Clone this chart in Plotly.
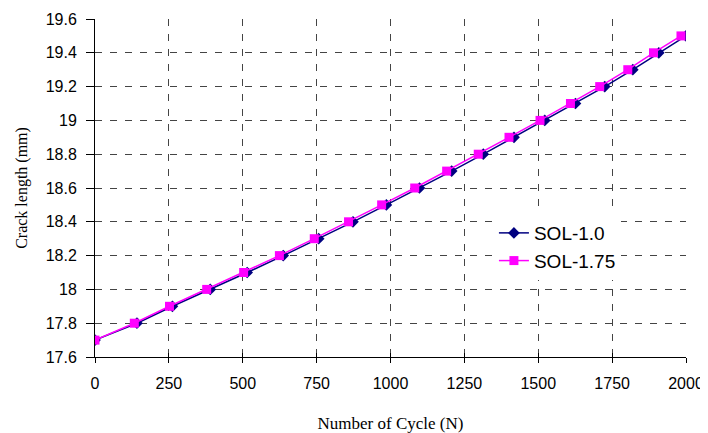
import plotly.graph_objects as go

# Data
crack_length = [17.7, 17.8, 17.9, 18.0, 18.1, 18.2, 18.3, 18.4, 18.5, 18.6,
                18.7, 18.8, 18.9, 19.0, 19.1, 19.2, 19.3, 19.4, 19.5]
cycles_sol_1_0 = [0, 142, 262, 390, 515, 637, 757, 873, 986, 1098,
                  1207, 1314, 1418, 1522, 1626, 1725, 1820, 1908, 2000]
cycles_sol_1_75 = [0, 133, 252, 378, 503, 624, 742, 858, 970, 1082,
                   1190, 1297, 1401, 1506, 1609, 1708, 1803, 1890, 1983]

x_tick_vals = [0, 250, 500, 750, 1000, 1250, 1500, 1750, 2000]
x_tick_text = ["0", "250", "500", "750", "1000", "1250", "1500", "1750", "2000"]
y_tick_vals = [17.6, 17.8, 18.0, 18.2, 18.4, 18.6, 18.8, 19.0, 19.2, 19.4, 19.6]
y_tick_text = ["17.6", "17.8", "18", "18.2", "18.4", "18.6", "18.8", "19", "19.2", "19.4", "19.6"]

fig = go.Figure()
fig.add_trace(go.Scatter(
    x=cycles_sol_1_0, y=crack_length, name="SOL-1.0", mode="lines+markers",
    line=dict(color="#000080", width=1.5),
    marker=dict(symbol="diamond", size=9, color="#000080"),
))
fig.add_trace(go.Scatter(
    x=cycles_sol_1_75, y=crack_length, name="SOL-1.75", mode="lines+markers",
    line=dict(color="#FF00FF", width=1.5),
    marker=dict(symbol="square", size=9, color="#FF00FF"),
))

grid_color = "#444444"
fig.update_layout(
    width=700, height=425,
    margin=dict(l=87, r=22, t=11, b=76, autoexpand=False),
    paper_bgcolor="white", plot_bgcolor="white",
    showlegend=True,
    legend=dict(x=0.675, y=0.423, xanchor="left", yanchor="top",
                bgcolor="white", borderwidth=0,
                font=dict(family="Liberation Sans, Arial", size=19, color="black")),
    xaxis=dict(range=[0, 2000], tickvals=x_tick_vals, ticktext=x_tick_text,
               automargin=False,
               showline=True, linecolor="black", linewidth=1,
               ticks="outside", ticklen=5, tickcolor="black",
               ticklabelstandoff=7,
               showgrid=True, gridcolor=grid_color, griddash="7px,8px", gridwidth=1,
               zeroline=False,
               tickfont=dict(family="Liberation Sans, Arial", size=16, color="black"),
               title=dict(text="Number of Cycle (N)", standoff=25,
                          font=dict(family="Liberation Serif, Times New Roman", size=17, color="black"))),
    xaxis2=dict(range=[0, 2000], overlaying="x", anchor="y", side="bottom",
                automargin=False,
                tickvals=x_tick_vals, ticks="inside", ticklen=4, tickcolor="black",
                showticklabels=False, showgrid=False, showline=False, zeroline=False),
    yaxis=dict(range=[17.6, 19.6], tickvals=y_tick_vals, ticktext=y_tick_text,
               automargin=False,
               showline=True, linecolor="black", linewidth=1,
               ticks="outside", ticklen=8, tickcolor="black",
               ticklabelstandoff=6,
               showgrid=True, gridcolor=grid_color, griddash="7px,8px", gridwidth=1,
               zeroline=False,
               tickfont=dict(family="Liberation Sans, Arial", size=16, color="black"),
               title=dict(text="Crack length (mm)", standoff=14,
                          font=dict(family="Liberation Serif, Times New Roman", size=16, color="black"))),
)
fig.add_trace(go.Scatter(x=[0, 2000], y=[17.6, 17.6], xaxis="x2", yaxis="y",
                         mode="markers", marker=dict(opacity=0), showlegend=False,
                         hoverinfo="skip"))

fig.write_html("out.html")
